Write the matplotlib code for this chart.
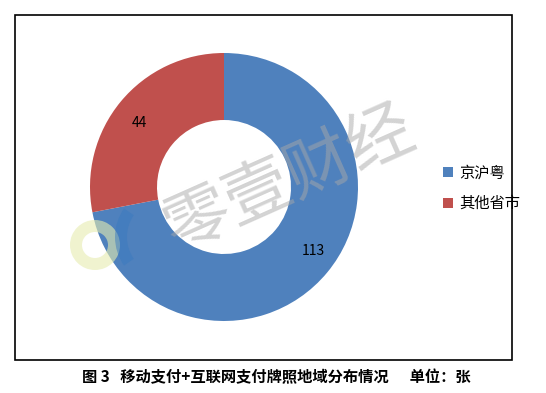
import matplotlib.pyplot as plt
from matplotlib.patches import Rectangle, Wedge

plt.rcParams['font.family'] = ['Noto Sans CJK SC', 'DejaVu Sans']

# data
regions = ['京沪粤', '其他省市']
counts = [113, 44]
colors = ['#4F81BD', '#C0504D']
caption = '图 3   移动支付+互联网支付牌照地域分布情况      单位：张'

W, H = 546, 393
fig = plt.figure(figsize=(W / 100, H / 100), dpi=100)

# overlay axes in pixel units for frame / caption
bg = fig.add_axes([0, 0, 1, 1])
bg.set_xlim(0, W)
bg.set_ylim(H, 0)
bg.axis('off')
bg.add_patch(Rectangle((15, 15), 497, 345, fill=False, lw=1.2, ec='black'))
bg.text(276, 377, caption, ha='center', va='center', fontsize=11,
        fontweight='bold')

# donut
cx, cy, r = 224, 187, 134
ax = fig.add_axes([(cx - r) / W, 1 - (cy + r) / H, 2 * r / W, 2 * r / H])
wedges, texts = ax.pie(counts, colors=colors, startangle=90, counterclock=False,
                       labels=[str(c) for c in counts], labeldistance=0.75,
                       wedgeprops=dict(width=0.5, edgecolor='none'),
                       textprops=dict(fontsize=10, color='black'))
ax.set_xlim(-1, 1)
ax.set_ylim(-1, 1)
ax.set_aspect('equal')
ax.set_zorder(1)

ax.legend(wedges, regions, loc='center left', frameon=False,
          bbox_to_anchor=((429 - (cx - r)) / (2 * r), 0.495),
          fontsize=11, handlelength=0.7, handleheight=0.7, handletextpad=0.4,
          labelspacing=0.9)

# watermark
top = fig.add_axes([0, 0, 1, 1])
top.set_xlim(0, W)
top.set_ylim(H, 0)
top.axis('off')
top.set_zorder(2)
top.add_patch(Wedge((95, 245), 25, 0, 360, width=12, fc='#e6ecb0', ec='none', alpha=0.6))
top.add_patch(Wedge((165, 237), 50, 145, 215, width=12, fc='#3a7abf', ec='none', alpha=0.5))
top.text(290, 180, '零壹财经', ha='center', va='center', fontsize=48,
         rotation=24, color='#a8a8a8', alpha=0.5)

fig.savefig('out.png', dpi=100)
